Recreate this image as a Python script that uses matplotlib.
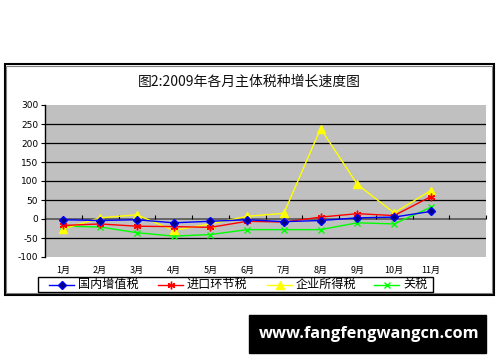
import matplotlib
matplotlib.use("Agg")
import matplotlib.pyplot as plt
from matplotlib.patches import Rectangle
from matplotlib.lines import Line2D
from matplotlib.transforms import blended_transform_factory

plt.rcParams['font.family'] = ['Noto Sans CJK SC', 'DejaVu Sans']

title = "图2:2009年各月主体税种增长速度图"
months = ["1月", "2月", "3月", "4月", "5月", "6月", "7月", "8月", "9月", "10月", "11月"]
vat = [-2, -4, -2, -10, -6, -2, -7, -4, 3, 5, 20]
import_tax = [-17, -13, -19, -20, -22, -6, -8, 5, 14, 9, 59]
corp_tax = [-26, 3, 11, -30, -13, 7, 15, 238, 91, 16, 75]
tariff = [-19, -21, -36, -45, -41, -28, -28, -28, -10, -13, 31]
series_names = ["国内增值税", "进口环节税", "企业所得税", "关税"]
yticks = [-100, -50, 0, 50, 100, 150, 200, 250, 300]

W, H = 500, 362
fig = plt.figure(figsize=(W / 100, H / 100), dpi=100)
fig.patch.set_facecolor("white")

# outer chart box
fig.patches.append(Rectangle((4.5 / W, 1 - 294.5 / H), 489 / W, 230 / H, transform=fig.transFigure,
                             facecolor="white", edgecolor="black", lw=1.5, zorder=-2))
fig.patches.append(Rectangle((6 / W, 1 - 293 / H), 486 / W, 227 / H, transform=fig.transFigure,
                             facecolor="none", edgecolor="#808080", lw=0.8, zorder=-1))

ax = fig.add_axes([45 / W, 1 - 257 / H, 441 / W, 152 / H])
ax.set_zorder(1)
ax.set_facecolor("#C0C0C0")
x = list(range(1, len(months) + 1))

ax.set_xlim(0.5, 12.5)
ax.set_ylim(-100, 300)
ax.set_yticks(yticks)
ax.set_yticklabels([str(v) for v in yticks], fontsize=6.5, family=['DejaVu Sans'])
for v in yticks:
    if v not in (-100, 0, 300):
        ax.axhline(v, color="black", lw=0.9, zorder=1)
ax.axhline(0, color="#555555", lw=1.2, zorder=1)

for s in ["top", "right"]:
    ax.spines[s].set_visible(False)
ax.spines["left"].set_linewidth(1.0)
ax.spines["bottom"].set_position(("data", 0))
ax.spines["bottom"].set_visible(False)
ax.tick_params(axis="y", length=3, width=0.8, pad=2)
ax.set_xticks([i + 0.5 for i in range(0, 13)])
ax.set_xticklabels([])
ax.tick_params(axis="x", direction="in", length=3, width=0.8, color="black")

trans = blended_transform_factory(ax.transData, ax.transAxes)
for xi, m in zip(x, months):
    ax.text(xi, -0.09, m, transform=trans, ha="center", va="center", fontsize=6.5)

styles = [
    dict(color="blue", lw=1.0, marker="D", ms=3.6, mfc="#000080", mec="blue"),
    dict(color="red", lw=1.0, marker=(6, 2, 0), ms=5.5, mec="red", mew=1.0),
    dict(color="yellow", lw=1.0, marker="^", ms=5.5, mfc="yellow", mec="yellow"),
    dict(color="#00FF00", lw=1.0, marker="x", ms=4.5, mew=1.0),
]
data = [vat, import_tax, corp_tax, tariff]
zs = [5, 4, 3, 2]
for d, st, z in zip(data, styles, zs):
    ax.plot(x, d, zorder=z, **st)

fig.text(249 / W, 1 - 82 / H, title, ha="center", va="center", fontsize=10, color="#111111")

# legend (manual layout to match original)
fig.patches.append(Rectangle((38 / W, 1 - 292 / H), 395 / W, 15 / H, transform=fig.transFigure,
                             facecolor="white", edgecolor="black", lw=1.0, zorder=2))
starts = [49, 158, 267, 374]
ly = 1 - 284.5 / H
for sx, name, st in zip(starts, series_names, styles):
    ln = Line2D([sx / W, (sx + 25) / W], [ly, ly], transform=fig.transFigure,
                color=st["color"], lw=st["lw"])
    ln.set_zorder(3)
    fig.lines.append(ln)
    ln2 = Line2D([(sx + 12.5) / W], [ly], transform=fig.transFigure, linestyle="none",
                 **{k: v for k, v in st.items() if k not in ("lw",)})
    ln2.set_zorder(3)
    fig.lines.append(ln2)
    fig.text((sx + 29) / W, ly, name, ha="left", va="center", fontsize=8.7, zorder=3)

# watermark box
fig.patches.append(Rectangle((249 / W, 1 - 353 / H), 237 / W, 38 / H, transform=fig.transFigure,
                             facecolor="black", edgecolor="black", zorder=0))
fig.text(369 / W, 1 - 334 / H, "www.fangfengwangcn.com", ha="center", va="center",
         fontsize=11.8, color="white", weight="bold", family=["Open Sans", "DejaVu Sans"])

fig.savefig("out.png", dpi=100, facecolor="white")
